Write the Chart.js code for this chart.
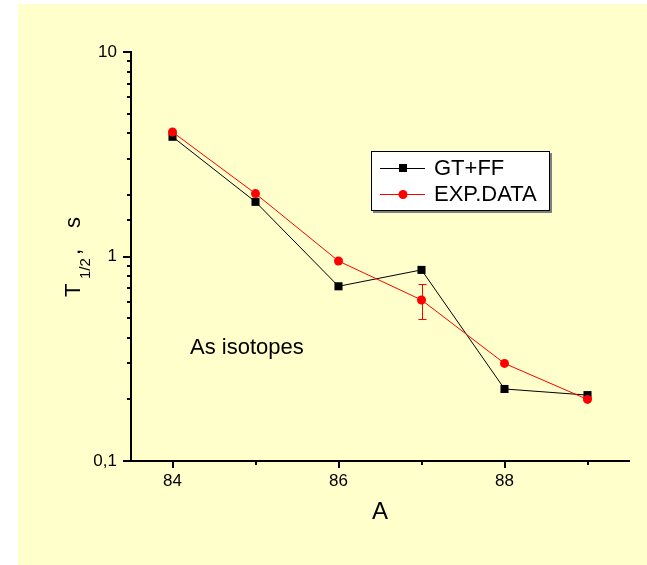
<!DOCTYPE html>
<html>
<head>
<meta charset="utf-8">
<script src="https://cdn.jsdelivr.net/npm/chart.js@4"></script>
<style>
  html, body { margin: 0; padding: 0; background: #fff; }
  #wrap { width: 647px; height: 565px; }
</style>
</head>
<body>
<div id="wrap"><canvas id="chart" width="647" height="565"></canvas></div>
<script>
// data
const massNumbers = [84, 85, 86, 87, 88, 89];
const gtffHalfLife = [3.85, 1.85, 0.715, 0.86, 0.225, 0.21];
const expHalfLife = [4.06, 2.03, 0.95, 0.613, 0.30, 0.20];
const expErrLow = [null, null, null, 0.493, null, null];
const expErrHigh = [null, null, null, 0.734, null, null];
const xTickValues = [84, 85, 86, 87, 88, 89];
const xMajorTicks = [84, 86, 88];
const yMajorTicks = [0.1, 1, 10];
const yTickLabels = ['0,1', '1', '10'];
const seriesNames = ['GT+FF', 'EXP.DATA'];

const FONT = 'Arial, "Liberation Sans", sans-serif';
Chart.defaults.font.family = FONT;
Chart.defaults.color = '#000';

const toPoints = ys => massNumbers.map((m, i) => ({ x: m, y: ys[i] }));
const isMajor = (list, v) => list.some(t => Math.abs(t - v) < 1e-9);

const decor = {
  id: 'decor',
  beforeDraw(chart) {
    const ctx = chart.ctx;
    ctx.save();
    ctx.fillStyle = '#ffffcc';
    ctx.fillRect(18, 4, chart.width - 18, chart.height - 4);
    ctx.restore();
  },
  afterDatasetsDraw(chart) {
    // error bars on the experimental points
    const { ctx, scales: { x, y } } = chart;
    ctx.save();
    ctx.strokeStyle = '#ff0000';
    ctx.lineWidth = 1;
    massNumbers.forEach((m, i) => {
      if (expErrLow[i] == null) return;
      const px = Math.round(x.getPixelForValue(m)) + 0.5;
      const y1 = Math.round(y.getPixelForValue(expErrHigh[i])) + 0.5;
      const y2 = Math.round(y.getPixelForValue(expErrLow[i])) + 0.5;
      ctx.beginPath();
      ctx.moveTo(px, y1); ctx.lineTo(px, y2);
      ctx.moveTo(px - 4, y1); ctx.lineTo(px + 4, y1);
      ctx.moveTo(px - 4, y2); ctx.lineTo(px + 4, y2);
      ctx.stroke();
    });
    ctx.restore();
  },
  afterDraw(chart) {
    const { ctx, chartArea: a, scales: { x, y } } = chart;
    ctx.save();
    ctx.strokeStyle = '#000';
    ctx.lineWidth = 2;
    // tick marks, outward
    y.ticks.forEach(t => {
      const py = Math.round(y.getPixelForValue(t.value));
      const len = isMajor(yMajorTicks, t.value) ? 8 : 4;
      ctx.beginPath(); ctx.moveTo(a.left - len, py); ctx.lineTo(a.left, py); ctx.stroke();
    });
    x.ticks.forEach(t => {
      const px = Math.round(x.getPixelForValue(t.value));
      const len = isMajor(xMajorTicks, t.value) ? 7 : 4;
      ctx.beginPath(); ctx.moveTo(px, a.bottom); ctx.lineTo(px, a.bottom + len); ctx.stroke();
    });

    // y axis title with subscript, read bottom to top
    ctx.fillStyle = '#000';
    ctx.translate(80, 297);
    ctx.rotate(-Math.PI / 2);
    ctx.textBaseline = 'alphabetic';
    ctx.textAlign = 'left';
    ctx.font = '22px ' + FONT;
    ctx.fillText('T', 0, 0);
    ctx.font = '15px ' + FONT;
    ctx.fillText('1/2', 18, 10);
    ctx.font = '22px ' + FONT;
    ctx.fillText(',', 42, 0);
    ctx.fillText('s', 69, 0);
    ctx.setTransform(1, 0, 0, 1, 0, 0);

    // annotation
    ctx.font = '22px ' + FONT;
    ctx.textBaseline = 'middle';
    ctx.fillText('As isotopes', 190, 348);

    // legend box
    const lx = 371, ly = 151, lw = 179, lh = 60;
    ctx.fillStyle = '#808080';
    ctx.fillRect(lx + 2, ly + 2, lw, lh);
    ctx.fillStyle = '#fff';
    ctx.fillRect(lx, ly, lw, lh);
    ctx.lineWidth = 1;
    ctx.strokeStyle = '#000';
    ctx.strokeRect(lx + 0.5, ly + 0.5, lw - 1, lh - 1);
    const rows = [
      { name: seriesNames[0], color: '#000', shape: 'rect', cy: 168 },
      { name: seriesNames[1], color: '#ff0000', shape: 'circle', cy: 194 }
    ];
    rows.forEach(r => {
      ctx.strokeStyle = r.color;
      ctx.fillStyle = r.color;
      ctx.beginPath();
      ctx.moveTo(380, r.cy + 0.5); ctx.lineTo(425, r.cy + 0.5);
      ctx.stroke();
      if (r.shape === 'rect') {
        ctx.fillRect(399, r.cy - 4, 8, 8);
      } else {
        ctx.beginPath(); ctx.arc(403, r.cy + 0.5, 4.5, 0, Math.PI * 2); ctx.fill();
      }
      ctx.fillStyle = '#000';
      ctx.font = '22px ' + FONT;
      ctx.textBaseline = 'middle';
      ctx.fillText(r.name, 434, r.cy + 1);
    });
    ctx.restore();
  }
};

new Chart(document.getElementById('chart'), {
  type: 'line',
  data: {
    datasets: [
      {
        label: seriesNames[0],
        data: toPoints(gtffHalfLife),
        borderColor: '#000',
        backgroundColor: '#000',
        borderWidth: 1,
        pointStyle: 'rect',
        pointRadius: 5.7,
        pointBorderWidth: 0,
        order: 2
      },
      {
        label: seriesNames[1],
        data: toPoints(expHalfLife),
        borderColor: '#ff0000',
        backgroundColor: '#ff0000',
        borderWidth: 1,
        pointStyle: 'circle',
        pointRadius: 4.5,
        pointBorderWidth: 0,
        order: 1
      }
    ]
  },
  options: {
    responsive: false,
    animation: false,
    layout: { padding: { top: 52, right: 18, left: 0, bottom: 0 } },
    plugins: { legend: { display: false }, tooltip: { enabled: false } },
    scales: {
      x: {
        type: 'linear',
        min: 83.5,
        max: 89.5,
        afterBuildTicks(s) { s.ticks = xTickValues.map(v => ({ value: v })); },
        afterFit(s) { s.height = 104; },
        grid: { display: true, drawOnChartArea: false, drawTicks: true, tickLength: 7, tickColor: 'rgba(0,0,0,0)' },
        border: { display: true, color: '#000', width: 2 },
        ticks: {
          autoSkip: false,
          maxRotation: 0,
          padding: 3,
          font: { size: 17 },
          callback: v => isMajor(xMajorTicks, v) ? String(v) : ''
        },
        title: { display: true, text: 'A', font: { size: 24 }, padding: { top: 0, bottom: 38 } }
      },
      y: {
        type: 'logarithmic',
        min: 0.1,
        max: 10,
        afterFit(s) { s.width = 131; },
        grid: { display: true, drawOnChartArea: false, drawTicks: true, tickLength: 9, tickColor: 'rgba(0,0,0,0)' },
        border: { display: true, color: '#000', width: 2 },
        ticks: {
          autoSkip: false,
          padding: 5,
          font: { size: 17 },
          callback: v => {
            const k = yMajorTicks.findIndex(t => Math.abs(t - v) < 1e-9);
            return k >= 0 ? yTickLabels[k] : '';
          }
        }
      }
    }
  },
  plugins: [decor]
});
</script>
</body>
</html>
